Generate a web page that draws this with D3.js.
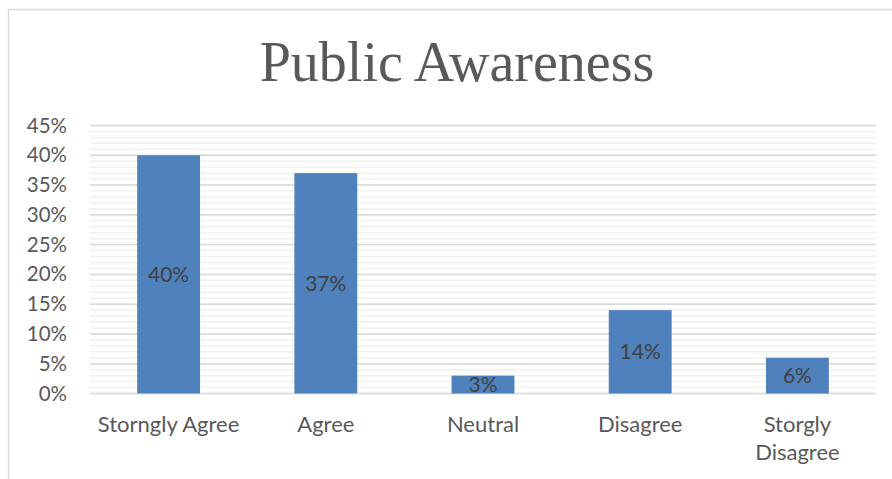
<!DOCTYPE html>
<html>
<head>
<meta charset="utf-8">
<script src="https://cdn.jsdelivr.net/npm/d3@7"></script>
<style>
  html, body { margin: 0; padding: 0; background: #fff; }
  svg { display: block; }
</style>
</head>
<body>
<svg id="chart" width="892" height="479"></svg>
<script>
// Chart data
const categories = ["Storngly Agree", "Agree", "Neutral", "Disagree", "Storgly Disagree"];
const values = [0.40, 0.37, 0.03, 0.14, 0.06];
const yTicks = [0, 0.05, 0.10, 0.15, 0.20, 0.25, 0.30, 0.35, 0.40, 0.45];
const minorTicks = d3.range(0, 46).map(d => d / 100);
const title = "Public Awareness";

const svg = d3.select("#chart");
const plot = { left: 90, right: 876, top: 125.5, bottom: 393.5 };

// Outer chart border (only top and left are inside the window)
svg.append("path")
    .attr("d", "M8.5,479 L8.5,9.5 L892,9.5")
    .attr("fill", "none")
    .attr("stroke", "#d9d9d9")
    .attr("stroke-width", 1.5);

// Title
svg.append("text")
    .attr("x", 457)
    .attr("y", 81)
    .attr("text-anchor", "middle")
    .attr("font-family", "'Liberation Serif', serif")
    .attr("font-size", 56)
    .attr("fill", "#595959")
    .text(title);

const x = d3.scaleBand()
    .domain(categories)
    .range([plot.left, plot.right])
    .paddingInner(0.6)
    .paddingOuter(0.3);

const y = d3.scaleLinear()
    .domain([0, 0.45])
    .range([plot.bottom, plot.top]);

// Minor gridlines
svg.append("g")
    .selectAll("line")
    .data(minorTicks)
    .join("line")
    .attr("x1", plot.left)
    .attr("x2", plot.right)
    .attr("y1", d => y(d))
    .attr("y2", d => y(d))
    .attr("stroke", "#f0f0f0")
    .attr("stroke-width", 1.5);

// Major gridlines
svg.append("g")
    .selectAll("line")
    .data(yTicks)
    .join("line")
    .attr("x1", plot.left)
    .attr("x2", plot.right)
    .attr("y1", d => y(d))
    .attr("y2", d => y(d))
    .attr("stroke", "#d9d9d9")
    .attr("stroke-width", 1.5);

// Y axis labels
const yAxis = svg.append("g")
    .attr("transform", `translate(${plot.left},0)`)
    .call(d3.axisLeft(y).tickValues(yTicks).tickFormat(d3.format(".0%")).tickSize(0).tickPadding(23));
yAxis.select(".domain").remove();
yAxis.selectAll("text")
    .attr("font-family", "Lato, sans-serif")
    .attr("font-size", 20.5)
    .attr("fill", "#595959");

// Bars
svg.append("g")
    .selectAll("rect")
    .data(values)
    .join("rect")
    .attr("x", (d, i) => x(categories[i]))
    .attr("y", d => y(d))
    .attr("width", x.bandwidth())
    .attr("height", d => y(0) - y(d))
    .attr("fill", "#4f81bd");

// Value labels in bar centres
svg.append("g")
    .selectAll("text")
    .data(values)
    .join("text")
    .attr("x", (d, i) => x(categories[i]) + x.bandwidth() / 2)
    .attr("y", d => (y(d) + y(0)) / 2)
    .attr("dy", "0.35em")
    .attr("text-anchor", "middle")
    .attr("font-family", "Lato, sans-serif")
    .attr("font-size", 21)
    .attr("fill", "#404040")
    .text(d => d3.format(".0%")(d));

// Category labels, wrapping long ones like the original
const catLines = { "Storgly Disagree": ["Storgly", "Disagree"] };
const xl = svg.append("g")
    .selectAll("text")
    .data(categories)
    .join("text")
    .attr("x", d => x(d) + x.bandwidth() / 2)
    .attr("y", 432)
    .attr("text-anchor", "middle")
    .attr("font-family", "Lato, sans-serif")
    .attr("font-size", 22)
    .attr("fill", "#595959");
xl.each(function (d) {
    const lines = catLines[d] || [d];
    d3.select(this).selectAll("tspan")
        .data(lines)
        .join("tspan")
        .attr("x", x(d) + x.bandwidth() / 2)
        .attr("dy", (l, i) => i === 0 ? 0 : 28)
        .text(l => l);
});
</script>
</body>
</html>
